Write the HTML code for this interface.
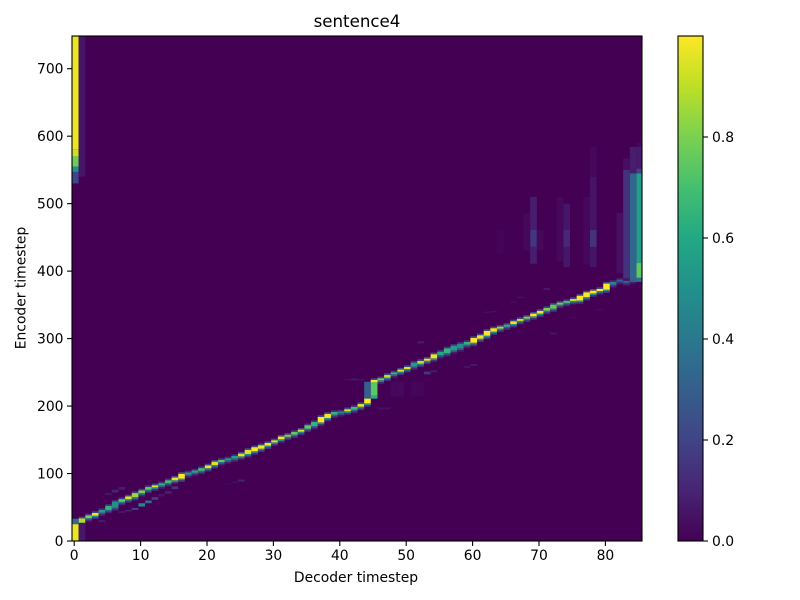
<!DOCTYPE html>
<html>
<head>
<meta charset="utf-8">
<title>sentence4</title>
<style>
html,body{margin:0;padding:0;background:#fff;width:800px;height:600px;overflow:hidden}
svg{display:block}
text{font-family:"DejaVu Sans","Liberation Sans",sans-serif;fill:#000}
</style>
</head>
<body>
<svg id="chart" width="800" height="600" viewBox="0 0 800 600" xmlns="http://www.w3.org/2000/svg">
  <defs>
    <clipPath id="plot-clip"><rect x="72" y="36" width="570" height="505"/></clipPath>
    <linearGradient id="viridis-gradient" x1="0" y1="1" x2="0" y2="0"></linearGradient>
  </defs>
  <rect x="0" y="0" width="800" height="600" fill="#fff"/>
  <text x="357" y="27" font-size="16.67" text-anchor="middle">sentence4</text>
  <rect x="72" y="36" width="570" height="505" fill="#440154"/>
  <g id="cells" clip-path="url(#plot-clip)"></g>
  <rect x="72" y="36" width="570" height="505" fill="none" stroke="#000" stroke-width="1.1"/>
  <g id="x-axis"></g>
  <g id="y-axis"></g>
  <text x="356" y="582" font-size="13.89" text-anchor="middle">Decoder timestep</text>
  <text x="25.5" y="288" font-size="13.89" text-anchor="middle" transform="rotate(-90 25.5 288)">Encoder timestep</text>
  <rect x="678" y="36" width="25" height="505" fill="url(#viridis-gradient)" stroke="#000" stroke-width="1.1"/>
  <g id="colorbar-axis"></g>
</svg>
<script>
// Decoder columns are indexed 0..85; each ridge array starts at column 1.
const ridgeEncoder = [30,36,39.5,44,49,54,60,64,68,73,78,81,84,88,92,96,100,103,106,110,115,118.6,121,124,127.5,132,136,139.3,143.3,147.7,152.7,156,159.6,163.5,169,173.4,179.8,185.3,189.2,190.7,193.7,196.6,201,208,237,239.6,244,248.5,252.5,256.4,261.4,264.8,268.7,273.7,278,282,286,289,293,297.4,302.4,307.8,312.8,316.2,319.2,323.6,327.6,331,335,339,343.4,347.3,351.8,354.3,357.2,360,365,369,372,377,382,386,384,387];
const ridgeValue = [.88,.8,.97,.55,.65,.5,.75,.95,.85,.8,.75,.95,.65,.7,.98,1,.55,.6,.7,.97,.95,.75,.55,.55,.95,.95,1,.98,.98,.95,.98,.8,.75,.95,.75,.65,1,.98,.65,.45,.95,.7,.95,1,1,.78,.9,.65,.95,.95,.55,.9,.98,.98,.6,.65,.55,.5,.65,1,.98,1,.98,.85,.65,.98,.9,.8,1,.98,.8,.75,.78,.7,.9,1,1,1,1,1,.45,.3,.3,.3];
const ridgeSpread = [7,4,4,4,6,9,4,4,6,4,4,3,3,4,4,7,3,3,4,4,5,3,3,4,4,6,6,5,4,3,4,3,4,3,5,6,8,6,4,3,3,4,4,8,3,3,4,3,3,3,6,4,3,6,5,7,7,7,4,7,5,7,5,3,3,4,3,3,4,4,4,6,3,3,3,7,7,4,3,9,4,3,3,3];
const extraColumn = [0,0,0,0,0,0,0,1,1,85,85,85,85,85,85,84,84,84,83,83,82,78,78,78,77,74,74,73,69,69,68,70,64,7,8,9,10,11,12,13,14,15,5,6,7,4,23,24,25,44,45,45,41,42,43,46,47,52,53,54,48,49,51,52,71,67,66,62,63,72,79,75,59,60];
const extraFrom = [0,25,580,570,555,547,530,0,540,412,390,384,545,552,584,384,389,545,389,550,397,406,436,540,410,406,436,415,411,436,430,431,426,42,44,46,51,56,61,66,70,77,68,72,76,28,83,86,88,211,214,211,238,238,238,195,195,293,247,250,214,214,214,214,372,360,353,338,339,306,342,330,257,260];
const extraTo = [25,33,749,580,570,555,547,27,749,545,412,390,552,584,590,390,545,584,550,567,486,540,461,584,510,500,461,510,510,461,486,461,461,44,46,49,56,60,65,70,74,81,71,76,80,31,85,88,91,236,237,216,240,241,240,198,198,296,251,253,236,236,236,236,375,362,355,340,341,309,344,332,259,262];
const extraValue = [.97,.35,.97,.92,.78,.5,.2,.06,.055,.56,.75,.35,.2,.07,.02,.3,.33,.08,.14,.04,.04,.055,.14,.02,.02,.06,.11,.02,.08,.15,.02,.02,.012,.08,.1,.2,.45,.35,.18,.05,.08,.15,.06,.1,.08,.07,.02,.04,.09,.3,.74,.62,.04,.06,.04,.04,.04,.08,.16,.07,.02,.025,.015,.015,.06,.04,.04,.04,.04,.05,.03,.02,.07,.09];
const xTickValues = [0,10,20,30,40,50,60,70,80];
const yTickValues = [0,100,200,300,400,500,600,700];
const colorbarTickValues = [0,0.2,0.4,0.6,0.8];
const viridisStops = ['#440154','#482475','#414487','#355f8d','#2a788e','#21918c','#22a884','#44bf70','#7ad151','#bddf26','#fde725'];

const NS = 'http://www.w3.org/2000/svg';
function xPos(v){ return 74.2 + 6.64 * v; }
function yPos(v){ return 541 - 0.6747 * v; }
function barPos(v){ return 541 - 505 * v; }
function hexToRgb(h){ return [1,3,5].map(function(i){ return parseInt(h.substr(i,2),16); }); }
function viridis(v){
  const t = Math.max(0, Math.min(1, v)) * (viridisStops.length - 1);
  const i = Math.min(Math.floor(t), viridisStops.length - 2);
  const a = hexToRgb(viridisStops[i]), b = hexToRgb(viridisStops[i + 1]), f = t - i;
  return 'rgb(' + a.map(function(c, k){ return Math.round(c + (b[k] - c) * f); }).join(',') + ')';
}
const cellsGroup = document.getElementById('cells');
function drawCell(column, from, to, value, name){
  const r = document.createElementNS(NS, 'rect');
  r.setAttribute('x', xPos(column - 0.33));
  r.setAttribute('width', 6.64);
  r.setAttribute('y', yPos(to));
  r.setAttribute('height', yPos(from) - yPos(to));
  r.setAttribute('fill', viridis(value));
  
  
  cellsGroup.appendChild(r);
}
ridgeEncoder.forEach(function(enc, i){
  const col = i + 1, v = ridgeValue[i], half = ridgeSpread[i] / 2;
  drawCell(col, enc + half, enc + half + 2.5, v * 0.22, 'ridge-fringe-upper');
  drawCell(col, enc - half - 5, enc - half - 2.5, v * 0.14, 'ridge-fringe-lower');
  drawCell(col, enc - half - 2.5, enc - half, v * 0.48, 'ridge-fringe-edge');
  drawCell(col, enc - half, enc + half, v, 'ridge-cell');
});
// side bands, stripes and ghost alignments go on top of the ridge
extraColumn.forEach(function(col, i){
  drawCell(col, extraFrom[i], extraTo[i], extraValue[i], 'heatmap-band');
});
// re-assert the peak of the jump column above its green band
drawCell(45, ridgeEncoder[44] - 1.5, ridgeEncoder[44] + 1.5, ridgeValue[44], 'ridge-cell');

function tickLine(parent, x1, y1, x2, y2, name){
  const l = document.createElementNS(NS, 'line');
  l.setAttribute('x1', x1); l.setAttribute('y1', y1);
  l.setAttribute('x2', x2); l.setAttribute('y2', y2);
  l.setAttribute('stroke', '#000'); l.setAttribute('stroke-width', '1.1');
  
  
  parent.appendChild(l);
}
function tickText(parent, x, y, anchor, content, name){
  const t = document.createElementNS(NS, 'text');
  t.setAttribute('x', x); t.setAttribute('y', y);
  t.setAttribute('text-anchor', anchor);
  t.setAttribute('font-size', '13.89');
  
  
  t.textContent = content;
  parent.appendChild(t);
}
const xAxis = document.getElementById('x-axis');
xTickValues.forEach(function(v){
  tickLine(xAxis, xPos(v), 541, xPos(v), 546, 'x-tick');
  tickText(xAxis, xPos(v), 560, 'middle', String(v), 'x-tick-label');
});
const yAxis = document.getElementById('y-axis');
yTickValues.forEach(function(v){
  tickLine(yAxis, 72, yPos(v), 67, yPos(v), 'y-tick');
  tickText(yAxis, 63.5, yPos(v) + 5, 'end', String(v), 'y-tick-label');
});
const barAxis = document.getElementById('colorbar-axis');
colorbarTickValues.forEach(function(v){
  tickLine(barAxis, 703, barPos(v), 708, barPos(v), 'colorbar-tick');
  tickText(barAxis, 712, barPos(v) + 5, 'start', v.toFixed(1), 'colorbar-tick-label');
});
const grad = document.getElementById('viridis-gradient');
viridisStops.forEach(function(c, i){
  const s = document.createElementNS(NS, 'stop');
  s.setAttribute('offset', i / (viridisStops.length - 1));
  s.setAttribute('stop-color', c);
  grad.appendChild(s);
});
</script>
</body>
</html>
